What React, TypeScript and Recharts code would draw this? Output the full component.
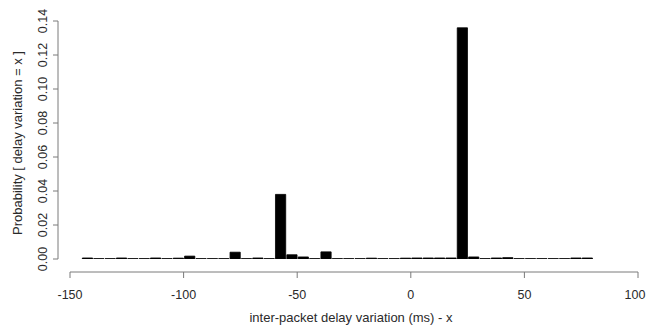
import React from 'react';
import { BarChart, Bar, XAxis, YAxis } from 'recharts';

// histogram of inter-packet delay variation, 5 ms bins (left edges)
const binStarts = [
    -145, -140, -135, -130, -125, -120, -115, -110, -105, -100,
    -95, -90, -85, -80, -75, -70, -65, -60, -55, -50,
    -45, -40, -35, -30, -25, -20, -15, -10, -5, 0,
    5, 10, 15, 20, 25, 30, 35, 40, 45, 50,
    55, 60, 65, 70, 75,
];
const probabilities = [
    0.0006, 0.0002, 0.0002, 0.0006, 0.0002, 0.0002, 0.0006, 0.0002, 0.0005, 0.0017,
    0.0002, 0.0002, 0.0002, 0.004, 0.0002, 0.0006, 0.0002, 0.038, 0.0025, 0.0012,
    0.0002, 0.0042, 0.0002, 0.0002, 0.0002, 0.0005, 0.0002, 0.0002, 0.0005, 0.0006,
    0.0006, 0.0006, 0.0006, 0.136, 0.0012, 0.0002, 0.0006, 0.0008, 0.0002, 0.0002,
    0.0002, 0.0002, 0.0002, 0.0006, 0.0006,
];
const xTicks = [-150, -100, -50, 0, 50, 100];
const yTicks = [0, 0.02, 0.04, 0.06, 0.08, 0.1, 0.12, 0.14];

const BIN = 5;
const data = binStarts.map((s, i) => ({ mid: s + BIN / 2, p: probabilities[i] }));

const W = 647, H = 327;
const margin = { top: 21, right: 9, left: 0, bottom: 0 };
const Y_W = 70, X_H = 68;
const plotW = W - margin.left - margin.right - Y_W;
const barW = (plotW / (xTicks[xTicks.length - 1] - xTicks[0])) * BIN;

const FONT = '"Liberation Sans", Arial, sans-serif';
const AXIS = '#7a7a7a';
const TXT = '#2a2a2a';

const XTick = ({ x, y, payload }: any) => (
    <text x={x} y={y + 34} textAnchor="middle" fontSize={12.5} fill={TXT} fontFamily={FONT}>
        {String(payload.value)}
    </text>
);

const YTick = ({ x, y, payload }: any) => (
    <text
        x={x - 18} y={y} textAnchor="middle" fontSize={12.5} fill={TXT} fontFamily={FONT}
        transform={`rotate(-90, ${x - 18}, ${y})`}
    >
        {payload.value.toFixed(2)}
    </text>
);

const XTitle = ({ viewBox }: any) => (
    <text
        x={viewBox.x + viewBox.width / 2 - 3} y={viewBox.y + viewBox.height - 5}
        textAnchor="middle" fontSize={13} fill={TXT} fontFamily={FONT}
    >
        inter-packet delay variation (ms) - x
    </text>
);

const YTitle = ({ viewBox }: any) => {
    const cx = viewBox.x + 22, cy = viewBox.y + viewBox.height / 2 + 3;
    return (
        <text
            x={cx} y={cy} textAnchor="middle" fontSize={13} fill={TXT} fontFamily={FONT}
            transform={`rotate(-90, ${cx}, ${cy})`}
        >
            Probability [ delay variation = x ]
        </text>
    );
};

export default function App() {
    return (
        <div style={{ position: 'absolute', left: 0, top: 0, width: W, height: H, background: '#fff' }}>
            <BarChart width={W} height={H} data={data} margin={margin} barGap={0} barCategoryGap={0}>
                <XAxis
                    type="number" dataKey="mid" domain={[xTicks[0], xTicks[xTicks.length - 1]]}
                    ticks={xTicks} allowDataOverflow height={X_H} tickSize={6} tickMargin={0}
                    axisLine={{ stroke: AXIS, transform: 'translate(0,13)' }}
                    tickLine={{ stroke: AXIS, transform: 'translate(0,13)' }}
                    tick={<XTick />}
                    label={<XTitle />}
                />
                <YAxis
                    type="number" domain={[0, 0.14]} ticks={yTicks} allowDataOverflow
                    width={Y_W} tickSize={5} tickMargin={0}
                    axisLine={{ stroke: AXIS, transform: 'translate(-12,0)' }}
                    tickLine={{ stroke: AXIS, transform: 'translate(-12,0)' }}
                    tick={<YTick />}
                    label={<YTitle />}
                />
                <Bar
                    dataKey="p" barSize={barW} fill="#000" stroke="#000" strokeWidth={0.8}
                    isAnimationActive={false}
                />
            </BarChart>
        </div>
    );
}
